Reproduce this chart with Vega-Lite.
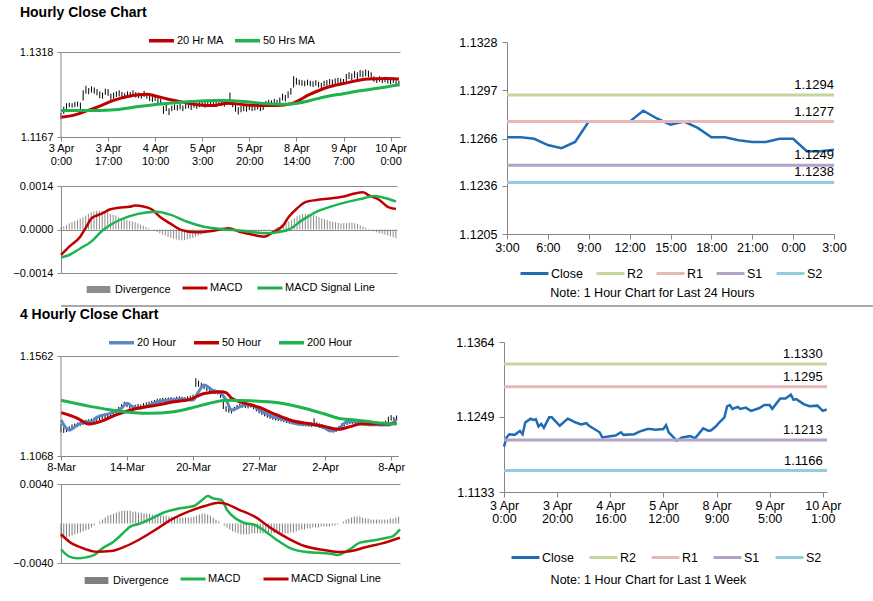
{
"$schema": "https://vega.github.io/schema/vega-lite/v6.json",
"background": "white",
"padding": {"left": 12, "top": 6, "right": 4, "bottom": 2},
"config": {
  "font": "Liberation Sans",
  "view": {"stroke": null},
  "axis": {"labelFont": "Liberation Sans", "labelFontSize": 11, "labelColor": "#000", "domainColor": "#868686", "tickColor": "#868686", "gridColor": "#8c8c8c", "gridWidth": 1, "tickSize": 4},
  "legend": {"labelFont": "Liberation Sans", "labelColor": "#000", "titleFont": "Liberation Sans", "titleColor": "#000", "layout": {"top": {"anchor": "middle", "margin": 10}, "bottom": {"anchor": "middle", "margin": 10}}},
  "title": {"font": "Liberation Sans", "fontSize": 14, "fontWeight": "bold", "anchor": "start", "color": "#000", "offset": 6}
},
"datasets": {
"p1bars": [
{"i":0,"lo":1.1199,"hi":1.1210},{"i":1,"lo":1.1208,"hi":1.1221},{"i":2,"lo":1.1217,"hi":1.1227},{"i":3,"lo":1.1220,"hi":1.1228},{"i":4,"lo":1.1219,"hi":1.1227},{"i":5,"lo":1.1220,"hi":1.1229},{"i":6,"lo":1.1221,"hi":1.1230},{"i":7,"lo":1.1214,"hi":1.1228},{"i":8,"lo":1.1232,"hi":1.1250},{"i":9,"lo":1.1244,"hi":1.1258},
{"i":10,"lo":1.1243,"hi":1.1254},{"i":11,"lo":1.1246,"hi":1.1257},{"i":12,"lo":1.1244,"hi":1.1255},{"i":13,"lo":1.1241,"hi":1.1252},{"i":14,"lo":1.1236,"hi":1.1248},{"i":15,"lo":1.1235,"hi":1.1246},{"i":16,"lo":1.1242,"hi":1.1253},{"i":17,"lo":1.1240,"hi":1.1252},{"i":18,"lo":1.1233,"hi":1.1244},{"i":19,"lo":1.1235,"hi":1.1246},
{"i":20,"lo":1.1238,"hi":1.1248},{"i":21,"lo":1.1239,"hi":1.1250},{"i":22,"lo":1.1237,"hi":1.1247},{"i":23,"lo":1.1235,"hi":1.1245},{"i":24,"lo":1.1238,"hi":1.1248},{"i":25,"lo":1.1237,"hi":1.1247},{"i":26,"lo":1.1239,"hi":1.1250},{"i":27,"lo":1.1237,"hi":1.1247},{"i":28,"lo":1.1236,"hi":1.1246},{"i":29,"lo":1.1235,"hi":1.1245},
{"i":30,"lo":1.1238,"hi":1.1249},{"i":31,"lo":1.1235,"hi":1.1245},{"i":32,"lo":1.1231,"hi":1.1241},{"i":33,"lo":1.1229,"hi":1.1239},{"i":34,"lo":1.1231,"hi":1.1241},{"i":35,"lo":1.1227,"hi":1.1237},{"i":36,"lo":1.1224,"hi":1.1235},{"i":37,"lo":1.1208,"hi":1.1222},{"i":38,"lo":1.1213,"hi":1.1224},{"i":39,"lo":1.1206,"hi":1.1218},
{"i":40,"lo":1.1213,"hi":1.1223},{"i":41,"lo":1.1215,"hi":1.1225},{"i":42,"lo":1.1214,"hi":1.1224},{"i":43,"lo":1.1216,"hi":1.1226},{"i":44,"lo":1.1213,"hi":1.1223},{"i":45,"lo":1.1217,"hi":1.1227},{"i":46,"lo":1.1218,"hi":1.1228},{"i":47,"lo":1.1215,"hi":1.1225},{"i":48,"lo":1.1219,"hi":1.1229},{"i":49,"lo":1.1217,"hi":1.1227},
{"i":50,"lo":1.1220,"hi":1.1230},{"i":51,"lo":1.1221,"hi":1.1231},{"i":52,"lo":1.1219,"hi":1.1229},{"i":53,"lo":1.1222,"hi":1.1232},{"i":54,"lo":1.1221,"hi":1.1231},{"i":55,"lo":1.1223,"hi":1.1233},{"i":56,"lo":1.1220,"hi":1.1230},{"i":57,"lo":1.1225,"hi":1.1235},{"i":58,"lo":1.1222,"hi":1.1232},{"i":59,"lo":1.1221,"hi":1.1231},
{"i":60,"lo":1.1224,"hi":1.1234},{"i":61,"lo":1.1230,"hi":1.1246},{"i":62,"lo":1.1220,"hi":1.1232},{"i":63,"lo":1.1212,"hi":1.1224},{"i":64,"lo":1.1207,"hi":1.1220},{"i":65,"lo":1.1211,"hi":1.1222},{"i":66,"lo":1.1213,"hi":1.1223},{"i":67,"lo":1.1212,"hi":1.1222},{"i":68,"lo":1.1215,"hi":1.1225},{"i":69,"lo":1.1213,"hi":1.1223},
{"i":70,"lo":1.1214,"hi":1.1224},{"i":71,"lo":1.1216,"hi":1.1226},{"i":72,"lo":1.1213,"hi":1.1223},{"i":73,"lo":1.1215,"hi":1.1225},{"i":74,"lo":1.1221,"hi":1.1231},{"i":75,"lo":1.1223,"hi":1.1233},{"i":76,"lo":1.1222,"hi":1.1232},{"i":77,"lo":1.1225,"hi":1.1235},{"i":78,"lo":1.1223,"hi":1.1233},{"i":79,"lo":1.1227,"hi":1.1237},
{"i":80,"lo":1.1232,"hi":1.1244},{"i":81,"lo":1.1230,"hi":1.1242},{"i":82,"lo":1.1236,"hi":1.1248},{"i":83,"lo":1.1242,"hi":1.1254},{"i":84,"lo":1.1255,"hi":1.1275},{"i":85,"lo":1.1260,"hi":1.1272},{"i":86,"lo":1.1259,"hi":1.1269},{"i":87,"lo":1.1258,"hi":1.1268},{"i":88,"lo":1.1257,"hi":1.1267},{"i":89,"lo":1.1259,"hi":1.1269},
{"i":90,"lo":1.1257,"hi":1.1267},{"i":91,"lo":1.1256,"hi":1.1266},{"i":92,"lo":1.1258,"hi":1.1268},{"i":93,"lo":1.1255,"hi":1.1265},{"i":94,"lo":1.1253,"hi":1.1263},{"i":95,"lo":1.1257,"hi":1.1267},{"i":96,"lo":1.1258,"hi":1.1268},{"i":97,"lo":1.1260,"hi":1.1270},{"i":98,"lo":1.1259,"hi":1.1269},{"i":99,"lo":1.1261,"hi":1.1271},
{"i":100,"lo":1.1262,"hi":1.1272},{"i":101,"lo":1.1261,"hi":1.1271},{"i":102,"lo":1.1260,"hi":1.1270},{"i":103,"lo":1.1265,"hi":1.1279},{"i":104,"lo":1.1270,"hi":1.1282},{"i":105,"lo":1.1268,"hi":1.1280},{"i":106,"lo":1.1272,"hi":1.1284},{"i":107,"lo":1.1270,"hi":1.1282},{"i":108,"lo":1.1274,"hi":1.1286},{"i":109,"lo":1.1273,"hi":1.1285},
{"i":110,"lo":1.1275,"hi":1.1287},{"i":111,"lo":1.1273,"hi":1.1285},{"i":112,"lo":1.1270,"hi":1.1282},{"i":113,"lo":1.1265,"hi":1.1275},{"i":114,"lo":1.1263,"hi":1.1273},{"i":115,"lo":1.1265,"hi":1.1275},{"i":116,"lo":1.1263,"hi":1.1273},{"i":117,"lo":1.1264,"hi":1.1274},{"i":118,"lo":1.1262,"hi":1.1272},{"i":119,"lo":1.1261,"hi":1.1271},
{"i":120,"lo":1.1263,"hi":1.1273},{"i":121,"lo":1.1258,"hi":1.1268},{"i":122,"lo":1.1257,"hi":1.1267}
],
"p1ma": [
{"i":0,"s":"20 Hr MA","v":1.1202},{"i":4,"s":"20 Hr MA","v":1.1205},{"i":9,"s":"20 Hr MA","v":1.1213},{"i":14,"s":"20 Hr MA","v":1.1222},{"i":19,"s":"20 Hr MA","v":1.1232},{"i":24,"s":"20 Hr MA","v":1.1239},{"i":28,"s":"20 Hr MA","v":1.1242},{"i":31,"s":"20 Hr MA","v":1.1243},{"i":34,"s":"20 Hr MA","v":1.1240},{"i":38,"s":"20 Hr MA","v":1.1235},{"i":44,"s":"20 Hr MA","v":1.1229},{"i":50,"s":"20 Hr MA","v":1.1224},{"i":55,"s":"20 Hr MA","v":1.1223},{"i":60,"s":"20 Hr MA","v":1.1227},{"i":67,"s":"20 Hr MA","v":1.1224},{"i":74,"s":"20 Hr MA","v":1.1223},{"i":78,"s":"20 Hr MA","v":1.1223},{"i":83,"s":"20 Hr MA","v":1.1226},{"i":90,"s":"20 Hr MA","v":1.1243},{"i":96,"s":"20 Hr MA","v":1.1255},{"i":102,"s":"20 Hr MA","v":1.1262},{"i":111,"s":"20 Hr MA","v":1.1270},{"i":118,"s":"20 Hr MA","v":1.1271},{"i":122,"s":"20 Hr MA","v":1.1270},
{"i":0,"s":"50 Hrs MA","v":1.1214},{"i":10,"s":"50 Hrs MA","v":1.1214},{"i":18,"s":"50 Hrs MA","v":1.1215},{"i":28,"s":"50 Hrs MA","v":1.1221},{"i":35,"s":"50 Hrs MA","v":1.1225},{"i":47,"s":"50 Hrs MA","v":1.1230},{"i":55,"s":"50 Hrs MA","v":1.1232},{"i":60,"s":"50 Hrs MA","v":1.1232},{"i":66,"s":"50 Hrs MA","v":1.1230},{"i":72,"s":"50 Hrs MA","v":1.1227},{"i":80,"s":"50 Hrs MA","v":1.1225},{"i":84,"s":"50 Hrs MA","v":1.1226},{"i":90,"s":"50 Hrs MA","v":1.1232},{"i":96,"s":"50 Hrs MA","v":1.1239},{"i":102,"s":"50 Hrs MA","v":1.1244},{"i":108,"s":"50 Hrs MA","v":1.1249},{"i":115,"s":"50 Hrs MA","v":1.1254},{"i":122,"s":"50 Hrs MA","v":1.1260}
],
"m1div": [
{"i":0,"d":0.00008},{"i":1,"d":0.0001},{"i":2,"d":0.00015},{"i":3,"d":0.0002},{"i":4,"d":0.00024},{"i":5,"d":0.00027},{"i":6,"d":0.0003},{"i":7,"d":0.00035},{"i":8,"d":0.0004},{"i":9,"d":0.00045},
{"i":10,"d":0.0005},{"i":11,"d":0.00055},{"i":12,"d":0.00058},{"i":13,"d":0.0006},{"i":14,"d":0.0006},{"i":15,"d":0.0006},{"i":16,"d":0.00058},{"i":17,"d":0.00055},{"i":18,"d":0.0005},{"i":19,"d":0.00048},
{"i":20,"d":0.00045},{"i":21,"d":0.0004},{"i":22,"d":0.00036},{"i":23,"d":0.00033},{"i":24,"d":0.0003},{"i":25,"d":0.00028},{"i":26,"d":0.00026},{"i":27,"d":0.00024},{"i":28,"d":0.0002},{"i":29,"d":0.00016},
{"i":30,"d":0.00012},{"i":31,"d":0.00008},{"i":32,"d":0.00004},{"i":33,"d":0.0},{"i":34,"d":-0.00004},{"i":35,"d":-0.00008},{"i":36,"d":-0.00012},{"i":37,"d":-0.00016},{"i":38,"d":-0.0002},{"i":39,"d":-0.00024},
{"i":40,"d":-0.00027},{"i":41,"d":-0.0003},{"i":42,"d":-0.00032},{"i":43,"d":-0.00034},{"i":44,"d":-0.00035},{"i":45,"d":-0.00034},{"i":46,"d":-0.00032},{"i":47,"d":-0.0003},{"i":48,"d":-0.00027},{"i":49,"d":-0.00024},
{"i":50,"d":-0.0002},{"i":51,"d":-0.00017},{"i":52,"d":-0.00014},{"i":53,"d":-0.00012},{"i":54,"d":-0.0001},{"i":55,"d":-0.00008},{"i":56,"d":-0.00006},{"i":57,"d":-0.00004},{"i":58,"d":-0.00003},{"i":59,"d":-0.00002},
{"i":60,"d":0.0},{"i":61,"d":0.00002},{"i":62,"d":0.0},{"i":63,"d":-0.00002},{"i":64,"d":-0.00003},{"i":65,"d":-0.00004},{"i":66,"d":-0.00005},{"i":67,"d":-0.00006},{"i":68,"d":-0.00007},{"i":69,"d":-0.00008},
{"i":70,"d":-0.00008},{"i":71,"d":-0.00008},{"i":72,"d":-0.00007},{"i":73,"d":-0.00007},{"i":74,"d":-0.00007},{"i":75,"d":-0.00006},{"i":76,"d":-0.00003},{"i":77,"d":0.0},{"i":78,"d":0.00004},{"i":79,"d":0.00008},
{"i":80,"d":0.0001},{"i":81,"d":0.00014},{"i":82,"d":0.0002},{"i":83,"d":0.00026},{"i":84,"d":0.0003},{"i":85,"d":0.00036},{"i":86,"d":0.00042},{"i":87,"d":0.00046},{"i":88,"d":0.0005},{"i":89,"d":0.0005},
{"i":90,"d":0.0005},{"i":91,"d":0.00048},{"i":92,"d":0.00047},{"i":93,"d":0.00044},{"i":94,"d":0.0004},{"i":95,"d":0.00036},{"i":96,"d":0.00033},{"i":97,"d":0.0003},{"i":98,"d":0.00027},{"i":99,"d":0.00025},
{"i":100,"d":0.00023},{"i":101,"d":0.00022},{"i":102,"d":0.0002},{"i":103,"d":0.0002},{"i":104,"d":0.0002},{"i":105,"d":0.00022},{"i":106,"d":0.00022},{"i":107,"d":0.0002},{"i":108,"d":0.00018},{"i":109,"d":0.00014},
{"i":110,"d":0.0001},{"i":111,"d":0.00006},{"i":112,"d":0.00002},{"i":113,"d":-0.00002},{"i":114,"d":-0.00006},{"i":115,"d":-0.00009},{"i":116,"d":-0.00012},{"i":117,"d":-0.00014},{"i":118,"d":-0.00016},{"i":119,"d":-0.00019},
{"i":120,"d":-0.00022},{"i":121,"d":-0.00025},{"i":122,"d":-0.00028}
],
"m1line": [
{"i":0,"s":"MACD","v":-0.00082},{"i":3,"s":"MACD","v":-0.00055},{"i":7,"s":"MACD","v":-0.00023},{"i":9,"s":"MACD","v":0.00005},{"i":11,"s":"MACD","v":0.00035},{"i":13,"s":"MACD","v":0.00045},{"i":15,"s":"MACD","v":0.00052},{"i":18,"s":"MACD","v":0.00065},{"i":21,"s":"MACD","v":0.0007},{"i":25,"s":"MACD","v":0.00073},{"i":27,"s":"MACD","v":0.00077},{"i":30,"s":"MACD","v":0.00074},{"i":33,"s":"MACD","v":0.00065},{"i":36,"s":"MACD","v":0.00041},{"i":40,"s":"MACD","v":0.00018},{"i":44,"s":"MACD","v":-0.00002},{"i":49,"s":"MACD","v":-0.00009},{"i":55,"s":"MACD","v":-0.00005},{"i":61,"s":"MACD","v":0.00004},{"i":65,"s":"MACD","v":-0.00007},{"i":69,"s":"MACD","v":-0.00015},{"i":74,"s":"MACD","v":-0.00023},{"i":77,"s":"MACD","v":-0.0001},{"i":81,"s":"MACD","v":0.00014},{"i":83,"s":"MACD","v":0.00041},{"i":86,"s":"MACD","v":0.00068},{"i":89,"s":"MACD","v":0.00088},{"i":93,"s":"MACD","v":0.00095},{"i":98,"s":"MACD","v":0.001},{"i":103,"s":"MACD","v":0.00106},{"i":107,"s":"MACD","v":0.00116},{"i":110,"s":"MACD","v":0.0012},{"i":112,"s":"MACD","v":0.00111},{"i":116,"s":"MACD","v":0.00095},{"i":119,"s":"MACD","v":0.00073},{"i":122,"s":"MACD","v":0.00066},
{"i":0,"s":"MACD Signal Line","v":-0.0009},{"i":3,"s":"MACD Signal Line","v":-0.00082},{"i":7,"s":"MACD Signal Line","v":-0.00061},{"i":11,"s":"MACD Signal Line","v":-0.00039},{"i":15,"s":"MACD Signal Line","v":-0.00004},{"i":19,"s":"MACD Signal Line","v":0.0002},{"i":25,"s":"MACD Signal Line","v":0.00043},{"i":31,"s":"MACD Signal Line","v":0.00055},{"i":35,"s":"MACD Signal Line","v":0.00057},{"i":40,"s":"MACD Signal Line","v":0.00047},{"i":46,"s":"MACD Signal Line","v":0.00025},{"i":52,"s":"MACD Signal Line","v":0.00009},{"i":59,"s":"MACD Signal Line","v":0.00001},{"i":66,"s":"MACD Signal Line","v":-0.00004},{"i":74,"s":"MACD Signal Line","v":-0.00012},{"i":80,"s":"MACD Signal Line","v":-0.00007},{"i":83,"s":"MACD Signal Line","v":0.0},{"i":88,"s":"MACD Signal Line","v":0.00031},{"i":93,"s":"MACD Signal Line","v":0.00057},{"i":98,"s":"MACD Signal Line","v":0.00073},{"i":104,"s":"MACD Signal Line","v":0.00088},{"i":110,"s":"MACD Signal Line","v":0.001},{"i":114,"s":"MACD Signal Line","v":0.00108},{"i":117,"s":"MACD Signal Line","v":0.00104},{"i":122,"s":"MACD Signal Line","v":0.0009}
],
"r1close": [
{"i":0,"v":1.1267},{"i":1,"v":1.1267},{"i":2,"v":1.1266},{"i":3,"v":1.1262},{"i":4,"v":1.1260},{"i":5,"v":1.1264},{"i":6,"v":1.1277},{"i":7,"v":1.1277},{"i":8,"v":1.1277},{"i":9,"v":1.1277},{"i":10,"v":1.1284},{"i":11,"v":1.1279},{"i":12,"v":1.1275},{"i":13,"v":1.1277},{"i":14,"v":1.1273},{"i":15,"v":1.1267},{"i":16,"v":1.1267},{"i":17,"v":1.1265},{"i":18,"v":1.1264},{"i":19,"v":1.1264},{"i":20,"v":1.1266},{"i":21,"v":1.1266},{"i":22,"v":1.1258},{"i":23,"v":1.1258},{"i":24,"v":1.1259}
],
"r1lev": [
{"s":"R2","v":1.1294},{"s":"R1","v":1.1277},{"s":"S1","v":1.1249},{"s":"S2","v":1.1238}
],
"p2bars": [
{"i":0,"lo":1.1185,"hi":1.1228},{"i":1,"lo":1.1182,"hi":1.1210},{"i":2,"lo":1.1186,"hi":1.1212},{"i":3,"lo":1.1190,"hi":1.1215},{"i":4,"lo":1.1200,"hi":1.1224},{"i":5,"lo":1.1207,"hi":1.1229},{"i":6,"lo":1.1211,"hi":1.1233},{"i":7,"lo":1.1217,"hi":1.1239},{"i":8,"lo":1.1221,"hi":1.1243},{"i":9,"lo":1.1225,"hi":1.1247},
{"i":10,"lo":1.1227,"hi":1.1249},{"i":11,"lo":1.1231,"hi":1.1253},{"i":12,"lo":1.1235,"hi":1.1257},{"i":13,"lo":1.1239,"hi":1.1261},{"i":14,"lo":1.1245,"hi":1.1267},{"i":15,"lo":1.1251,"hi":1.1273},{"i":16,"lo":1.1255,"hi":1.1277},{"i":17,"lo":1.1259,"hi":1.1281},{"i":18,"lo":1.1265,"hi":1.1287},{"i":19,"lo":1.1271,"hi":1.1293},
{"i":20,"lo":1.1279,"hi":1.1301},{"i":21,"lo":1.1289,"hi":1.1311},{"i":22,"lo":1.1301,"hi":1.1323},{"i":23,"lo":1.1314,"hi":1.1336},{"i":24,"lo":1.1309,"hi":1.1331},{"i":25,"lo":1.1301,"hi":1.1323},{"i":26,"lo":1.1297,"hi":1.1319},{"i":27,"lo":1.1299,"hi":1.1321},{"i":28,"lo":1.1303,"hi":1.1325},{"i":29,"lo":1.1301,"hi":1.1323},
{"i":30,"lo":1.1307,"hi":1.1329},{"i":31,"lo":1.1311,"hi":1.1333},{"i":32,"lo":1.1315,"hi":1.1337},{"i":33,"lo":1.1319,"hi":1.1341},{"i":34,"lo":1.1323,"hi":1.1345},{"i":35,"lo":1.1329,"hi":1.1351},{"i":36,"lo":1.1331,"hi":1.1353},{"i":37,"lo":1.1334,"hi":1.1356},{"i":38,"lo":1.1333,"hi":1.1355},{"i":39,"lo":1.1335,"hi":1.1357},
{"i":40,"lo":1.1337,"hi":1.1359},{"i":41,"lo":1.1334,"hi":1.1356},{"i":42,"lo":1.1339,"hi":1.1361},{"i":43,"lo":1.1341,"hi":1.1363},{"i":44,"lo":1.1339,"hi":1.1361},{"i":45,"lo":1.1337,"hi":1.1359},{"i":46,"lo":1.1341,"hi":1.1363},{"i":47,"lo":1.1344,"hi":1.1366},{"i":48,"lo":1.1349,"hi":1.1371},{"i":49,"lo":1.1410,"hi":1.1452},
{"i":50,"lo":1.1410,"hi":1.1440},{"i":51,"lo":1.1405,"hi":1.1430},{"i":52,"lo":1.1398,"hi":1.1422},{"i":53,"lo":1.1389,"hi":1.1411},{"i":54,"lo":1.1381,"hi":1.1403},{"i":55,"lo":1.1377,"hi":1.1399},{"i":56,"lo":1.1374,"hi":1.1396},{"i":57,"lo":1.1372,"hi":1.1394},{"i":58,"lo":1.1355,"hi":1.1385},{"i":59,"lo":1.1300,"hi":1.1350},
{"i":60,"lo":1.1286,"hi":1.1314},{"i":61,"lo":1.1282,"hi":1.1308},{"i":62,"lo":1.1278,"hi":1.1302},{"i":63,"lo":1.1289,"hi":1.1311},{"i":64,"lo":1.1299,"hi":1.1321},{"i":65,"lo":1.1305,"hi":1.1327},{"i":66,"lo":1.1307,"hi":1.1329},{"i":67,"lo":1.1305,"hi":1.1327},{"i":68,"lo":1.1303,"hi":1.1325},{"i":69,"lo":1.1307,"hi":1.1329},
{"i":70,"lo":1.1299,"hi":1.1321},{"i":71,"lo":1.1289,"hi":1.1311},{"i":72,"lo":1.1279,"hi":1.1301},{"i":73,"lo":1.1271,"hi":1.1293},{"i":74,"lo":1.1264,"hi":1.1286},{"i":75,"lo":1.1257,"hi":1.1279},{"i":76,"lo":1.1251,"hi":1.1273},{"i":77,"lo":1.1247,"hi":1.1269},{"i":78,"lo":1.1244,"hi":1.1266},{"i":79,"lo":1.1241,"hi":1.1263},
{"i":80,"lo":1.1239,"hi":1.1261},{"i":81,"lo":1.1235,"hi":1.1257},{"i":82,"lo":1.1231,"hi":1.1253},{"i":83,"lo":1.1227,"hi":1.1249},{"i":84,"lo":1.1224,"hi":1.1246},{"i":85,"lo":1.1221,"hi":1.1243},{"i":86,"lo":1.1219,"hi":1.1241},{"i":87,"lo":1.1217,"hi":1.1239},{"i":88,"lo":1.1215,"hi":1.1237},{"i":89,"lo":1.1214,"hi":1.1236},
{"i":90,"lo":1.1213,"hi":1.1235},{"i":91,"lo":1.1211,"hi":1.1233},{"i":92,"lo":1.1219,"hi":1.1254},{"i":93,"lo":1.1213,"hi":1.1235},{"i":94,"lo":1.1207,"hi":1.1229},{"i":95,"lo":1.1203,"hi":1.1225},{"i":96,"lo":1.1199,"hi":1.1221},{"i":97,"lo":1.1194,"hi":1.1216},{"i":98,"lo":1.1187,"hi":1.1209},{"i":99,"lo":1.1184,"hi":1.1206},
{"i":100,"lo":1.1187,"hi":1.1209},{"i":101,"lo":1.1194,"hi":1.1216},{"i":102,"lo":1.1207,"hi":1.1229},{"i":103,"lo":1.1215,"hi":1.1237},{"i":104,"lo":1.1221,"hi":1.1243},{"i":105,"lo":1.1225,"hi":1.1247},{"i":106,"lo":1.1227,"hi":1.1249},{"i":107,"lo":1.1225,"hi":1.1247},{"i":108,"lo":1.1223,"hi":1.1245},{"i":109,"lo":1.1221,"hi":1.1243},
{"i":110,"lo":1.1219,"hi":1.1241},{"i":111,"lo":1.1217,"hi":1.1239},{"i":112,"lo":1.1215,"hi":1.1237},{"i":113,"lo":1.1214,"hi":1.1236},{"i":114,"lo":1.1215,"hi":1.1237},{"i":115,"lo":1.1217,"hi":1.1239},{"i":116,"lo":1.1214,"hi":1.1236},{"i":117,"lo":1.1215,"hi":1.1237},{"i":118,"lo":1.1221,"hi":1.1243},{"i":119,"lo":1.1234,"hi":1.1262},
{"i":120,"lo":1.1242,"hi":1.1270},{"i":121,"lo":1.1239,"hi":1.1261},{"i":122,"lo":1.1245,"hi":1.1268}
],
"p2ma": [
{"i":0,"s":"20 Hour","v":1.1246},{"i":3,"s":"20 Hour","v":1.1196},{"i":6,"s":"20 Hour","v":1.1221},{"i":9,"s":"20 Hour","v":1.1237},{"i":11,"s":"20 Hour","v":1.1237},{"i":13,"s":"20 Hour","v":1.1259},{"i":18,"s":"20 Hour","v":1.1279},{"i":22,"s":"20 Hour","v":1.1304},{"i":24,"s":"20 Hour","v":1.1328},{"i":26,"s":"20 Hour","v":1.1312},{"i":28,"s":"20 Hour","v":1.1304},{"i":30,"s":"20 Hour","v":1.1308},{"i":35,"s":"20 Hour","v":1.1336},{"i":40,"s":"20 Hour","v":1.1345},{"i":44,"s":"20 Hour","v":1.1350},{"i":48,"s":"20 Hour","v":1.1345},{"i":50,"s":"20 Hour","v":1.1386},{"i":52,"s":"20 Hour","v":1.1419},{"i":55,"s":"20 Hour","v":1.1394},{"i":58,"s":"20 Hour","v":1.1379},{"i":60,"s":"20 Hour","v":1.1345},{"i":62,"s":"20 Hour","v":1.1295},{"i":67,"s":"20 Hour","v":1.1320},{"i":70,"s":"20 Hour","v":1.1315},{"i":72,"s":"20 Hour","v":1.1295},{"i":77,"s":"20 Hour","v":1.1262},{"i":81,"s":"20 Hour","v":1.1248},{"i":86,"s":"20 Hour","v":1.1226},{"i":92,"s":"20 Hour","v":1.1221},{"i":96,"s":"20 Hour","v":1.1206},{"i":98,"s":"20 Hour","v":1.1191},{"i":101,"s":"20 Hour","v":1.1204},{"i":104,"s":"20 Hour","v":1.1237},{"i":108,"s":"20 Hour","v":1.1237},{"i":113,"s":"20 Hour","v":1.1223},{"i":119,"s":"20 Hour","v":1.1221},{"i":122,"s":"20 Hour","v":1.1250},
{"i":0,"s":"50 Hour","v":1.1282},{"i":6,"s":"50 Hour","v":1.1254},{"i":10,"s":"50 Hour","v":1.1226},{"i":14,"s":"50 Hour","v":1.1237},{"i":20,"s":"50 Hour","v":1.1271},{"i":26,"s":"50 Hour","v":1.1298},{"i":35,"s":"50 Hour","v":1.1320},{"i":41,"s":"50 Hour","v":1.1336},{"i":47,"s":"50 Hour","v":1.1348},{"i":52,"s":"50 Hour","v":1.1377},{"i":58,"s":"50 Hour","v":1.1386},{"i":60,"s":"50 Hour","v":1.1381},{"i":62,"s":"50 Hour","v":1.1353},{"i":67,"s":"50 Hour","v":1.1328},{"i":72,"s":"50 Hour","v":1.1309},{"i":77,"s":"50 Hour","v":1.1279},{"i":84,"s":"50 Hour","v":1.1242},{"i":91,"s":"50 Hour","v":1.1226},{"i":96,"s":"50 Hour","v":1.1213},{"i":101,"s":"50 Hour","v":1.1200},{"i":105,"s":"50 Hour","v":1.1213},{"i":109,"s":"50 Hour","v":1.1226},{"i":114,"s":"50 Hour","v":1.1226},{"i":119,"s":"50 Hour","v":1.1226},{"i":122,"s":"50 Hour","v":1.1230},
{"i":0,"s":"200 Hour","v":1.1343},{"i":11,"s":"200 Hour","v":1.1312},{"i":20,"s":"200 Hour","v":1.1292},{"i":32,"s":"200 Hour","v":1.1279},{"i":41,"s":"200 Hour","v":1.1287},{"i":47,"s":"200 Hour","v":1.1304},{"i":53,"s":"200 Hour","v":1.1325},{"i":60,"s":"200 Hour","v":1.1344},{"i":69,"s":"200 Hour","v":1.1341},{"i":79,"s":"200 Hour","v":1.1331},{"i":87,"s":"200 Hour","v":1.1309},{"i":95,"s":"200 Hour","v":1.1279},{"i":101,"s":"200 Hour","v":1.1254},{"i":107,"s":"200 Hour","v":1.1246},{"i":114,"s":"200 Hour","v":1.1234},{"i":122,"s":"200 Hour","v":1.1226}
],
"m2div": [
{"i":0,"d":-0.0015},{"i":1,"d":-0.0015},{"i":2,"d":-0.0014},{"i":3,"d":-0.0013},{"i":4,"d":-0.0012},{"i":5,"d":-0.0011},{"i":6,"d":-0.001},{"i":7,"d":-0.0009},{"i":8,"d":-0.0008},{"i":9,"d":-0.0007},
{"i":10,"d":-0.0006},{"i":11,"d":-0.0004},{"i":12,"d":-0.0002},{"i":13,"d":0.0},{"i":14,"d":0.0002},{"i":15,"d":0.0004},{"i":16,"d":0.0006},{"i":17,"d":0.0008},{"i":18,"d":0.0009},{"i":19,"d":0.001},
{"i":20,"d":0.0011},{"i":21,"d":0.0012},{"i":22,"d":0.0013},{"i":23,"d":0.0013},{"i":24,"d":0.0013},{"i":25,"d":0.0013},{"i":26,"d":0.0012},{"i":27,"d":0.0012},{"i":28,"d":0.0011},{"i":29,"d":0.0011},
{"i":30,"d":0.001},{"i":31,"d":0.001},{"i":32,"d":0.001},{"i":33,"d":0.0009},{"i":34,"d":0.0009},{"i":35,"d":0.0009},{"i":36,"d":0.0008},{"i":37,"d":0.0008},{"i":38,"d":0.0008},{"i":39,"d":0.0007},
{"i":40,"d":0.0007},{"i":41,"d":0.0007},{"i":42,"d":0.0007},{"i":43,"d":0.0006},{"i":44,"d":0.0006},{"i":45,"d":0.0006},{"i":46,"d":0.0006},{"i":47,"d":0.0006},{"i":48,"d":0.0007},{"i":49,"d":0.0008},
{"i":50,"d":0.0009},{"i":51,"d":0.001},{"i":52,"d":0.001},{"i":53,"d":0.0009},{"i":54,"d":0.0008},{"i":55,"d":0.0006},{"i":56,"d":0.0004},{"i":57,"d":0.0002},{"i":58,"d":0.0},{"i":59,"d":-0.0002},
{"i":60,"d":-0.0004},{"i":61,"d":-0.0006},{"i":62,"d":-0.0008},{"i":63,"d":-0.0009},{"i":64,"d":-0.001},{"i":65,"d":-0.0011},{"i":66,"d":-0.0011},{"i":67,"d":-0.0011},{"i":68,"d":-0.0011},{"i":69,"d":-0.001},
{"i":70,"d":-0.001},{"i":71,"d":-0.001},{"i":72,"d":-0.001},{"i":73,"d":-0.001},{"i":74,"d":-0.001},{"i":75,"d":-0.001},{"i":76,"d":-0.001},{"i":77,"d":-0.001},{"i":78,"d":-0.001},{"i":79,"d":-0.001},
{"i":80,"d":-0.001},{"i":81,"d":-0.001},{"i":82,"d":-0.001},{"i":83,"d":-0.0009},{"i":84,"d":-0.0009},{"i":85,"d":-0.0008},{"i":86,"d":-0.0007},{"i":87,"d":-0.0006},{"i":88,"d":-0.0006},{"i":89,"d":-0.0005},
{"i":90,"d":-0.0005},{"i":91,"d":-0.0004},{"i":92,"d":-0.0004},{"i":93,"d":-0.0004},{"i":94,"d":-0.0003},{"i":95,"d":-0.0003},{"i":96,"d":-0.0003},{"i":97,"d":-0.0003},{"i":98,"d":-0.0002},{"i":99,"d":-0.0002},
{"i":100,"d":-0.0001},{"i":101,"d":0.0},{"i":102,"d":0.0002},{"i":103,"d":0.0004},{"i":104,"d":0.0005},{"i":105,"d":0.0006},{"i":106,"d":0.0007},{"i":107,"d":0.0007},{"i":108,"d":0.0007},{"i":109,"d":0.0006},
{"i":110,"d":0.0005},{"i":111,"d":0.0005},{"i":112,"d":0.0004},{"i":113,"d":0.0004},{"i":114,"d":0.0004},{"i":115,"d":0.0004},{"i":116,"d":0.0004},{"i":117,"d":0.0004},{"i":118,"d":0.0004},{"i":119,"d":0.0005},
{"i":120,"d":0.0005},{"i":121,"d":0.0006},{"i":122,"d":0.0007}
],
"m2line": [
{"i":0,"s":"MACD","v":-0.00261},{"i":3,"s":"MACD","v":-0.00336},{"i":6,"s":"MACD","v":-0.00353},{"i":9,"s":"MACD","v":-0.00343},{"i":12,"s":"MACD","v":-0.00319},{"i":15,"s":"MACD","v":-0.00251},{"i":19,"s":"MACD","v":-0.00184},{"i":23,"s":"MACD","v":-0.00083},{"i":25,"s":"MACD","v":-0.00032},{"i":28,"s":"MACD","v":-0.00005},{"i":32,"s":"MACD","v":0.00042},{"i":37,"s":"MACD","v":0.00109},{"i":43,"s":"MACD","v":0.00154},{"i":48,"s":"MACD","v":0.00177},{"i":51,"s":"MACD","v":0.00238},{"i":53,"s":"MACD","v":0.00278},{"i":55,"s":"MACD","v":0.00255},{"i":58,"s":"MACD","v":0.00238},{"i":60,"s":"MACD","v":0.00137},{"i":63,"s":"MACD","v":0.00052},{"i":66,"s":"MACD","v":0.00008},{"i":70,"s":"MACD","v":-0.00015},{"i":74,"s":"MACD","v":-0.00083},{"i":78,"s":"MACD","v":-0.00167},{"i":83,"s":"MACD","v":-0.00251},{"i":88,"s":"MACD","v":-0.00286},{"i":93,"s":"MACD","v":-0.00296},{"i":98,"s":"MACD","v":-0.00309},{"i":100,"s":"MACD","v":-0.00319},{"i":104,"s":"MACD","v":-0.00268},{"i":108,"s":"MACD","v":-0.00194},{"i":112,"s":"MACD","v":-0.00174},{"i":117,"s":"MACD","v":-0.0015},{"i":120,"s":"MACD","v":-0.00127},{"i":122.5,"s":"MACD","v":-0.0006},
{"i":0,"s":"MACD Signal Line","v":-0.00109},{"i":3,"s":"MACD Signal Line","v":-0.00184},{"i":8,"s":"MACD Signal Line","v":-0.00251},{"i":13,"s":"MACD Signal Line","v":-0.00286},{"i":18,"s":"MACD Signal Line","v":-0.00279},{"i":23,"s":"MACD Signal Line","v":-0.00235},{"i":28,"s":"MACD Signal Line","v":-0.00167},{"i":34,"s":"MACD Signal Line","v":-0.00066},{"i":40,"s":"MACD Signal Line","v":0.00042},{"i":46,"s":"MACD Signal Line","v":0.0012},{"i":52,"s":"MACD Signal Line","v":0.00177},{"i":57,"s":"MACD Signal Line","v":0.00211},{"i":59,"s":"MACD Signal Line","v":0.00204},{"i":64,"s":"MACD Signal Line","v":0.00144},{"i":70,"s":"MACD Signal Line","v":0.00069},{"i":76,"s":"MACD Signal Line","v":-0.00049},{"i":82,"s":"MACD Signal Line","v":-0.0015},{"i":88,"s":"MACD Signal Line","v":-0.00228},{"i":95,"s":"MACD Signal Line","v":-0.00268},{"i":101,"s":"MACD Signal Line","v":-0.00289},{"i":105,"s":"MACD Signal Line","v":-0.00279},{"i":110,"s":"MACD Signal Line","v":-0.00241},{"i":116,"s":"MACD Signal Line","v":-0.00201},{"i":122.5,"s":"MACD Signal Line","v":-0.00144}
],
"r2close": [
{"i":0,"v":1.1203},{"i":1,"v":1.1217},{"i":2,"v":1.1222},{"i":4,"v":1.1221},{"i":6,"v":1.1227},{"i":7,"v":1.1222},{"i":8,"v":1.1240},{"i":10,"v":1.1246},{"i":11,"v":1.1244},{"i":12,"v":1.1245},{"i":13,"v":1.1234},{"i":14,"v":1.1238},{"i":15,"v":1.1232},{"i":17,"v":1.1248},{"i":18,"v":1.1248},{"i":21,"v":1.1235},{"i":24,"v":1.1246},{"i":25,"v":1.1244},{"i":27,"v":1.1240},{"i":29,"v":1.1237},{"i":31,"v":1.1239},{"i":32,"v":1.1235},{"i":34,"v":1.1230},{"i":36,"v":1.1225},{"i":37,"v":1.1217},{"i":40,"v":1.1219},{"i":42,"v":1.1220},{"i":44,"v":1.1225},{"i":45,"v":1.1221},{"i":49,"v":1.1222},{"i":51,"v":1.1226},{"i":54,"v":1.1230},{"i":55,"v":1.1230},{"i":57,"v":1.1229},{"i":60,"v":1.1230},{"i":61,"v":1.1236},{"i":62,"v":1.1225},{"i":65,"v":1.1212},{"i":67,"v":1.1217},{"i":70,"v":1.1219},{"i":72,"v":1.1216},{"i":75,"v":1.1231},{"i":77,"v":1.1227},{"i":78,"v":1.1228},{"i":80,"v":1.1235},{"i":81,"v":1.1240},{"i":83,"v":1.1248},{"i":84,"v":1.1265},{"i":85,"v":1.1267},{"i":86,"v":1.1261},{"i":88,"v":1.1264},{"i":89,"v":1.1261},{"i":91,"v":1.1263},{"i":93,"v":1.1258},{"i":96,"v":1.1262},{"i":98,"v":1.1267},{"i":100,"v":1.1267},{"i":101,"v":1.1261},{"i":104,"v":1.1277},{"i":106,"v":1.1277},{"i":108,"v":1.1283},{"i":109,"v":1.1275},{"i":110,"v":1.1276},{"i":113,"v":1.1268},{"i":115,"v":1.1265},{"i":118,"v":1.1266},{"i":120,"v":1.1258},{"i":121.5,"v":1.1260}
],
"r2lev": [
{"s":"R2","v":1.1330},{"s":"R1","v":1.1295},{"s":"S1","v":1.1213},{"s":"S2","v":1.1166}
]
},
"spacing": 1,
"resolve": {"scale": {"color": "independent", "x": "independent", "y": "independent"}, "legend": {"color": "independent"}},
"vconcat": [
{
  "title": {"text": "Hourly Close Chart", "dx": 7, "offset": 6},
  "spacing": 51,
  "resolve": {"scale": {"color": "independent", "x": "independent", "y": "independent"}, "legend": {"color": "independent"}},
  "hconcat": [
    {
      "spacing": 14,
      "resolve": {"scale": {"color": "independent", "x": "independent", "y": "independent"}, "legend": {"color": "independent"}},
      "vconcat": [
        {
          "width": 339, "height": 95,
          "layer": [
            {"data": {"name": "p1bars"}, "mark": {"type": "rule", "color": "#000", "strokeWidth": 1},
             "encoding": {
               "x": {"field": "i", "type": "quantitative", "scale": {"domain": [0, 122.4], "nice": false, "zero": false},
                     "axis": {"title": null, "values": [0,17,34,51,68,85,102,119], "grid": false, "labelFlush": false, "labelOverlap": false, "labelLineHeight": 13, "labelPadding": 1,
                              "labelExpr": "split(['3 Apr|0:00','3 Apr|17:00','4 Apr|10:00','5 Apr|3:00','5 Apr|20:00','8 Apr|14:00','9 Apr|7:00','10 Apr|0:00'][round(datum.value/17)], '|')"}},
               "y": {"field": "lo", "type": "quantitative", "scale": {"domain": [1.1167, 1.13358], "nice": false, "zero": false},
                     "axis": {"title": null, "values": [1.1167, 1.1217, 1.1267, 1.1318], "format": ".4f", "grid": true, "domain": false, "labelPadding": 4}},
               "y2": {"field": "hi"}
             }},
            {"data": {"name": "p1ma"}, "mark": {"type": "line", "strokeWidth": 3, "interpolate": "monotone"},
             "encoding": {
               "x": {"field": "i", "type": "quantitative"},
               "y": {"field": "v", "type": "quantitative"},
               "color": {"field": "s", "type": "nominal", "title": null, "scale": {"domain": ["20 Hr MA", "50 Hrs MA"], "range": ["#c00000", "#1db34f"]},
                         "legend": {"orient": "top", "direction": "horizontal", "title": null, "symbolType": "stroke", "symbolStrokeWidth": 3.5, "symbolSize": 625, "labelFontSize": 11, "columnPadding": 4, "labelOffset": 1, "offset": -6}}
             }},
            {"data": {"values": [{}]}, "mark": {"type": "rule", "color": "#868686", "strokeWidth": 1},
             "encoding": {"x": {"datum": 0}, "y": {"datum": 1.1167}, "y2": {"datum": 1.1318}}}
          ]
        },
        {
          "width": 336, "height": 87,
          "resolve": {"scale": {"color": "independent"}, "legend": {"color": "independent"}},
          "layer": [
            {"data": {"name": "m1div"}, "mark": {"type": "rule", "strokeWidth": 1},
             "encoding": {
               "x": {"field": "i", "type": "quantitative", "scale": {"domain": [0, 122.4], "nice": false, "zero": false}, "axis": null},
               "y": {"field": "d", "type": "quantitative", "scale": {"domain": [-0.0014, 0.0014], "nice": false},
                     "axis": {"title": null, "values": [-0.0014, 0, 0.0014], "format": ".4f", "grid": true, "labelPadding": 4}},
               "y2": {"datum": 0},
               "color": {"datum": "Divergence", "type": "nominal", "title": null, "scale": {"domain": ["Divergence"], "range": ["#8c8c8c"]},
                         "legend": {"orient": "bottom", "direction": "horizontal", "title": null, "symbolType": "stroke", "symbolStrokeWidth": 7, "symbolSize": 560, "labelFontSize": 11, "labelOffset": 1, "offset": 1}}
             }},
            {"data": {"name": "m1line"}, "mark": {"type": "line", "strokeWidth": 2.5, "interpolate": "monotone"},
             "encoding": {
               "x": {"field": "i", "type": "quantitative"},
               "y": {"field": "v", "type": "quantitative"},
               "color": {"field": "s", "type": "nominal", "title": null, "scale": {"domain": ["MACD", "MACD Signal Line"], "range": ["#c00000", "#1db34f"]},
                         "legend": {"orient": "bottom", "direction": "horizontal", "title": null, "symbolType": "stroke", "symbolStrokeWidth": 3, "symbolSize": 625, "labelFontSize": 11, "columnPadding": 8, "labelOffset": 1, "offset": 1}}
             }}
          ]
        }
      ]
    },
    {
      "width": 327, "height": 192,
      "title": {"text": "Note: 1 Hour Chart for Last 24 Hours", "orient": "bottom", "anchor": "middle", "frame": "bounds", "fontSize": 12.5, "fontWeight": "normal", "offset": 7},
      "layer": [
        {"data": {"name": "r1close"}, "mark": {"type": "line", "strokeWidth": 2.5},
         "encoding": {
           "x": {"field": "i", "type": "quantitative", "scale": {"domain": [0, 24], "nice": false, "zero": false},
                 "axis": {"title": null, "values": [0,3,6,9,12,15,18,21,24], "grid": false, "labelFontSize": 12.5, "tickSize": 5, "labelFlush": false, "labelOverlap": false,
                          "labelExpr": "['3:00','6:00','9:00','12:00','15:00','18:00','21:00','0:00','3:00'][round(datum.value/3)]"}},
           "y": {"field": "v", "type": "quantitative", "scale": {"domain": [1.1205, 1.1328], "nice": false, "zero": false},
                 "axis": {"title": null, "values": [1.1205, 1.1236, 1.1266, 1.1297, 1.1328], "format": ".4f", "grid": false, "labelFontSize": 12.5, "tickSize": 5, "labelPadding": 5}},
           "color": {"datum": "Close", "type": "nominal", "title": null, "scale": {"domain": ["Close", "R2", "R1", "S1", "S2"], "range": ["#1f6cb5", "#c3d69b", "#e6b9b8", "#b3a2c7", "#93cddd"]},
                     "legend": {"orient": "bottom", "direction": "horizontal", "title": null,
                                "symbolType": "stroke", "symbolStrokeWidth": 3, "symbolSize": 780, "labelFontSize": 12.5, "columnPadding": 7, "labelOffset": 1, "offset": 4}}
         }},
        {"data": {"name": "r1lev"}, "mark": {"type": "rule", "strokeWidth": 3},
         "encoding": {
           "y": {"field": "v", "type": "quantitative"},
           "color": {"field": "s", "type": "nominal", "title": null}
         }},
        {"data": {"name": "r1lev"}, "mark": {"type": "text", "align": "right", "baseline": "middle", "dy": -10, "fontSize": 13, "font": "Liberation Sans", "color": "#000"},
         "encoding": {
           "x": {"datum": 24},
           "y": {"field": "v", "type": "quantitative"},
           "text": {"field": "v", "type": "quantitative", "format": ".4f"}
         }}
      ]
    }
  ]
},
{
  "width": 850, "height": 1,
  "data": {"values": [{"v": 0}]},
  "mark": {"type": "rule", "color": "#8c8c8c", "strokeWidth": 1.5},
  "encoding": {"y": {"field": "v", "type": "quantitative", "scale": {"domain": [0, 1]}, "axis": null}}
},
{
  "title": {"text": "4 Hourly Close Chart", "dx": 7, "offset": 6},
  "spacing": 50,
  "resolve": {"scale": {"color": "independent", "x": "independent", "y": "independent"}, "legend": {"color": "independent"}},
  "hconcat": [
    {
      "spacing": 6,
      "resolve": {"scale": {"color": "independent", "x": "independent", "y": "independent"}, "legend": {"color": "independent"}},
      "vconcat": [
        {
          "width": 337, "height": 114,
          "layer": [
            {"data": {"name": "p2bars"}, "mark": {"type": "rule", "color": "#000", "strokeWidth": 1},
             "encoding": {
               "x": {"field": "i", "type": "quantitative", "scale": {"domain": [0, 122.5], "nice": false, "zero": false},
                     "axis": {"title": null, "values": [0,24,48,72,96,120], "grid": false, "labelFlush": false, "labelOverlap": false, "labelPadding": 1,
                              "labelExpr": "['8-Mar','14-Mar','20-Mar','27-Mar','2-Apr','8-Apr'][round(datum.value/24)]"}},
               "y": {"field": "lo", "type": "quantitative", "scale": {"domain": [1.1068, 1.16312], "nice": false, "zero": false},
                     "axis": {"title": null, "values": [1.1068, 1.1233, 1.1398, 1.1562], "format": ".4f", "grid": true, "domain": false, "labelPadding": 4}},
               "y2": {"field": "hi"}
             }},
            {"data": {"name": "p2ma"}, "mark": {"type": "line", "strokeWidth": 3, "interpolate": "monotone"},
             "encoding": {
               "x": {"field": "i", "type": "quantitative"},
               "y": {"field": "v", "type": "quantitative"},
               "color": {"field": "s", "type": "nominal", "title": null, "scale": {"domain": ["20 Hour", "50 Hour", "200 Hour"], "range": ["#5b87c4", "#c00000", "#1db34f"]},
                         "legend": {"orient": "top", "direction": "horizontal", "title": null, "symbolType": "stroke", "symbolStrokeWidth": 3.5, "symbolSize": 625, "labelFontSize": 11, "columnPadding": 10, "labelOffset": 1, "offset": -8}}
             }},
            {"data": {"values": [{}]}, "mark": {"type": "rule", "color": "#868686", "strokeWidth": 1},
             "encoding": {"x": {"datum": 0}, "y": {"datum": 1.1068}, "y2": {"datum": 1.1562}}}
          ]
        },
        {
          "width": 339, "height": 79,
          "resolve": {"scale": {"color": "independent"}, "legend": {"color": "independent"}},
          "layer": [
            {"data": {"name": "m2div"}, "mark": {"type": "rule", "strokeWidth": 1},
             "encoding": {
               "x": {"field": "i", "type": "quantitative", "scale": {"domain": [0, 122.5], "nice": false, "zero": false}, "axis": null},
               "y": {"field": "d", "type": "quantitative", "scale": {"domain": [-0.004, 0.004], "nice": false},
                     "axis": {"title": null, "values": [-0.004, 0, 0.004], "format": ".4f", "grid": true, "labelPadding": 4}},
               "y2": {"datum": 0},
               "color": {"datum": "Divergence", "type": "nominal", "title": null, "scale": {"domain": ["Divergence"], "range": ["#7f7f7f"]},
                         "legend": {"orient": "bottom", "direction": "horizontal", "title": null, "symbolType": "stroke", "symbolStrokeWidth": 7, "symbolSize": 560, "labelFontSize": 11, "labelOffset": 1, "offset": 1}}
             }},
            {"data": {"name": "m2line"}, "mark": {"type": "line", "strokeWidth": 2.5, "interpolate": "monotone"},
             "encoding": {
               "x": {"field": "i", "type": "quantitative"},
               "y": {"field": "v", "type": "quantitative"},
               "color": {"field": "s", "type": "nominal", "title": null, "scale": {"domain": ["MACD", "MACD Signal Line"], "range": ["#1db34f", "#c00000"]},
                         "legend": {"orient": "bottom", "direction": "horizontal", "title": null, "symbolType": "stroke", "symbolStrokeWidth": 3, "symbolSize": 625, "labelFontSize": 11, "columnPadding": 16, "labelOffset": 1, "offset": 1}}
             }}
          ]
        }
      ]
    },
    {
      "width": 323, "height": 150,
      "title": {"text": "Note: 1 Hour Chart for Last 1 Week", "orient": "bottom", "anchor": "middle", "frame": "bounds", "fontSize": 12.5, "fontWeight": "normal", "offset": 10},
      "layer": [
        {"data": {"name": "r2close"}, "mark": {"type": "line", "strokeWidth": 2.5},
         "encoding": {
           "x": {"field": "i", "type": "quantitative", "scale": {"domain": [0, 121.6], "nice": false, "zero": false},
                 "axis": {"title": null, "values": [0,20,40,60,80,100,120], "grid": false, "labelFontSize": 12.5, "tickSize": 5, "labelFlush": false, "labelOverlap": false, "labelLineHeight": 13,
                          "labelExpr": "split(['3 Apr|0:00','3 Apr|20:00','4 Apr|16:00','5 Apr|12:00','8 Apr|9:00','9 Apr|5:00','10 Apr|1:00'][round(datum.value/20)], '|')"}},
           "y": {"field": "v", "type": "quantitative", "scale": {"domain": [1.1133, 1.1364], "nice": false, "zero": false},
                 "axis": {"title": null, "values": [1.1133, 1.1191, 1.1249, 1.1306, 1.1364], "format": ".4f", "grid": false, "labelFontSize": 12.5, "tickSize": 5, "labelPadding": 5}},
           "color": {"datum": "Close", "type": "nominal", "title": null, "scale": {"domain": ["Close", "R2", "R1", "S1", "S2"], "range": ["#1f6cb5", "#c3d69b", "#e6b9b8", "#b3a2c7", "#93cddd"]},
                     "legend": {"orient": "bottom", "direction": "horizontal", "title": null,
                                "symbolType": "stroke", "symbolStrokeWidth": 3, "symbolSize": 780, "labelFontSize": 12.5, "columnPadding": 9, "labelOffset": 1, "offset": 17}}
         }},
        {"data": {"name": "r2lev"}, "mark": {"type": "rule", "strokeWidth": 3},
         "encoding": {
           "y": {"field": "v", "type": "quantitative"},
           "color": {"field": "s", "type": "nominal", "title": null}
         }},
        {"data": {"name": "r2lev"}, "mark": {"type": "text", "align": "right", "baseline": "middle", "dy": -10, "fontSize": 13, "font": "Liberation Sans", "color": "#000"},
         "encoding": {
           "x": {"datum": 120},
           "y": {"field": "v", "type": "quantitative"},
           "text": {"field": "v", "type": "quantitative", "format": ".4f"}
         }}
      ]
    }
  ]
},
{
  "width": 850, "height": 26,
  "data": {"values": [{"v": 0}]},
  "mark": {"type": "rule", "color": "#8c8c8c", "strokeWidth": 1.5},
  "encoding": {"y": {"field": "v", "type": "quantitative", "scale": {"domain": [0, 1]}, "axis": null}}
}
]
}
